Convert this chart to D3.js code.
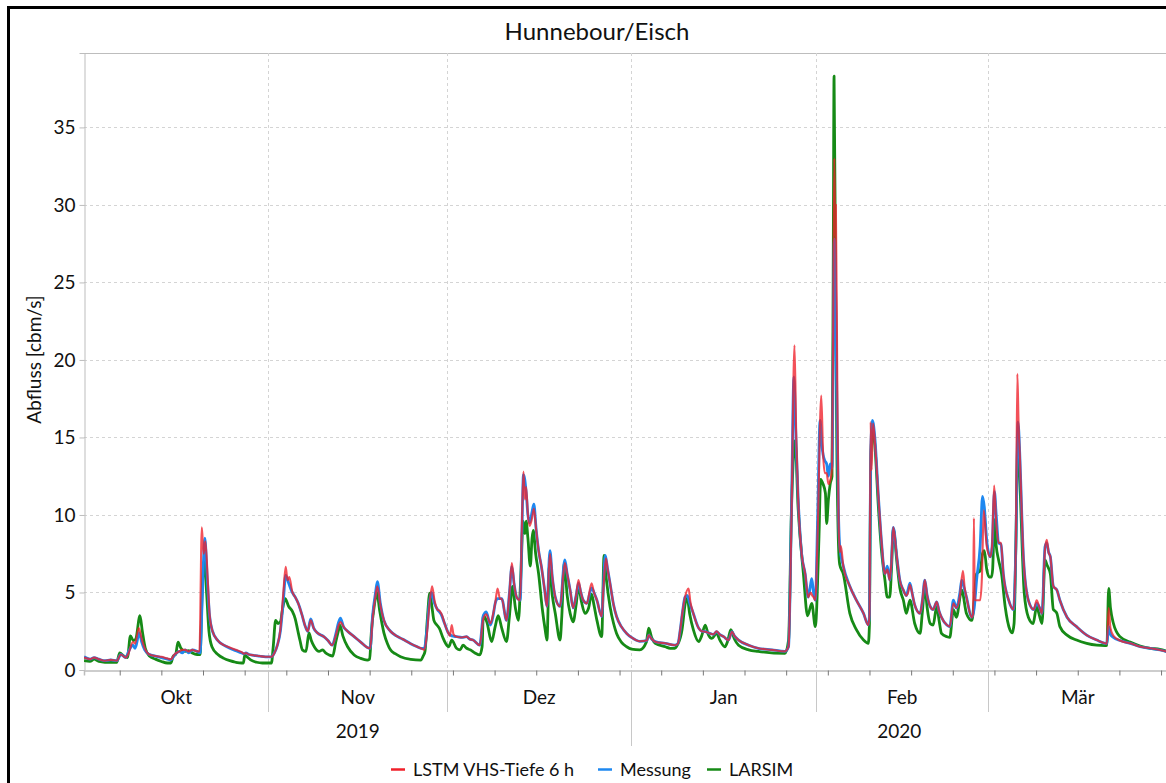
<!DOCTYPE html>
<html><head><meta charset="utf-8">
<script src="https://cdn.jsdelivr.net/npm/d3@7"></script>
<style>
html,body{margin:0;padding:0;background:#fff;}
svg{display:block;}
text{font-family:Lato,"Open Sans",sans-serif;fill:#111;}
</style></head>
<body>
<svg id="c" width="1166" height="783"></svg>
<script>
// ---- data: [days since 2019-10-01, discharge m3/s] ----
const startDate = Date.UTC(2019, 9, 1);
const title = "Hunnebour/Eisch";
const yLabel = "Abfluss [cbm/s]";
const yTicks = [0, 5, 10, 15, 20, 25, 30, 35];
const monthNames = ["Okt", "Nov", "Dez", "Jan", "Feb", "Mär"];
const yearNames = [["2019", "2019-10-01", "2020-01-01"], ["2020", "2020-01-01", "2020-03-31"]];
const seriesNames = ["LSTM VHS-Tiefe 6 h", "Messung", "LARSIM"];

const messung = [[0,0.85],[1,0.7],[1.7,0.8],[2.5,0.7],[3.5,0.6],[4.5,0.65],[5.5,0.6],[6.2,1.0],[7,0.8],[7.5,1.2],[8.2,1.6],[8.6,1.4],[9.3,2.4],[9.7,1.8],[10.2,1.3],[11,1.0],[12,0.9],[13,0.8],[14,0.7],[14.6,0.65],[15.2,0.95],[16,1.2],[16.5,1.1],[17,1.3],[17.6,1.1],[18.2,1.3],[19,1.2],[19.5,1.1],[19.9,5.0],[20.3,8.5],[20.7,6.0],[21.1,3.5],[21.6,2.5],[22.5,1.9],[23.5,1.6],[24.5,1.4],[25.5,1.25],[26.5,1.1],[26.9,1.05],[27.2,1.1],[27.7,1.0],[28.5,0.95],[29.5,0.9],[30.5,0.85],[31.5,0.85],
[32,1.1],[32.5,1.6],[33,2.5],[33.5,4.5],[33.9,6.1],[34.4,5.6],[35,5.0],[35.5,4.7],[36,4.3],[36.6,3.6],[37.2,2.8],[37.6,2.5],[38.1,3.3],[38.6,2.7],[39.2,2.4],[40.3,2.15],[41,1.9],[41.7,1.6],[42.3,2.3],[42.8,3.1],[43.1,3.35],[43.6,2.8],[44.3,2.5],[45.4,2.15],[46.5,1.8],[47.6,1.45],[48.1,1.4],[48.5,3.5],[49,5.0],[49.3,5.7],[49.8,4.3],[50.4,3.2],[51.5,2.5],[52.5,2.2],[53.5,2.0],[54.9,1.7],[56,1.5],[56.6,1.4],[57.2,1.4],[57.6,2.5],[58,4.2],[58.4,5.0],[58.9,4.3],[59.4,3.9],[60,3.6],[60.6,3.0],[61.2,2.4],[61.8,2.2],[62.6,2.15],[63.5,2.1],[64.3,2.15],[64.8,2.0],[65.4,1.93],[66.5,1.6],[67.1,3.5],[67.6,3.75],[68.3,2.9],[68.8,3.6],[69.1,4.3],[69.5,4.6],[69.9,4.6],[70.2,4.6],[71,3.2],[71.5,5.0],[71.9,6.66],[72.3,5.5],[72.7,4.7],[73.3,4.5],[73.6,9.0],[73.85,12.6],[74.3,11.5],[74.6,10.0],[74.9,9.5],[75.3,10.2],[75.6,10.7],[76,9.0],[76.4,7.7],[76.9,6.6],[77.4,5.2],[77.8,4.1],[78.3,7.7],[78.7,6.0],[79.2,4.7],[80,4.1],[80.8,7.1],[81.2,6.2],[81.7,5.15],[82.2,4.0],[82.7,4.8],[83.1,5.6],[83.5,5.0],[83.9,4.5],[84.5,4.3],[85.3,5.3],[85.7,5.0],[86.2,4.5],[87,3.45],[87.3,5.5],[87.6,7.4],[88,6.5],[88.4,5.6],[89,4.2],[89.5,3.45],[90.3,2.8],[91.2,2.36],[92,2.1],[93.4,1.85],
[94.6,1.9],[94.9,2.25],[95.4,2.0],[96,1.83],[97.7,1.72],[99.3,1.6],[99.8,1.7],[100.2,2.6],[100.6,3.8],[101,4.7],[101.4,4.8],[101.8,4.3],[102.4,3.65],[103.3,2.7],[103.8,2.5],[104.4,2.47],[105.2,2.36],[105.8,2.3],[106.3,2.47],[106.8,2.3],[107.5,2.15],[108.3,1.93],[108.9,2.47],[109.3,2.2],[110,1.93],[111.7,1.6],[113.3,1.4],[115.6,1.3],[117.8,1.2],[118.4,1.5],[118.9,10.5],[119.3,18.9],[119.6,15.5],[120,11.2],[120.6,7.5],[121.2,6.2],[121.7,4.7],[122.1,5.5],[122.3,5.9],[122.6,5.0],[122.9,4.5],[123.3,10.0],[123.7,16.1],[124,14.5],[124.2,13.9],[124.5,13.5],[124.8,13.3],[125.1,12.5],[125.4,13.3],[125.7,13.0],[125.9,20.0],[126.1,27.8],[126.3,25.0],[126.5,18.0],[126.8,10.0],[127,8.0],[127.6,6.7],[128.7,5.4],[129.8,4.5],[131,3.65],[131.8,2.9],[132,3.5],[132.2,14.0],[132.5,16.1],[132.9,15.0],[133.5,11.2],[134,8.4],[134.6,6.2],[135,6.7],[135.4,5.8],[135.7,7.0],[136,9.2],[136.6,7.3],[137.1,5.8],[137.7,5.15],[138.2,4.8],[138.5,5.2],[138.8,5.6],[139.2,4.9],[139.6,4.2],[140.5,3.65],[140.9,4.5],[141.3,5.8],[141.7,4.8],[142.2,4.1],[142.7,3.9],[143.3,4.4],[143.7,3.8],[144.1,3.4],[145,2.9],[145.5,2.8],[146.1,4.5],[146.6,4.0],[147.2,5.0],[147.5,5.8],[147.9,5.3],[148.3,4.7],[149.2,3.4],[149.6,4.0],[150,5.8],[150.6,8.0],[151,11.2],[151.3,10.5],[151.7,8.4],[152.3,7.3],[152.6,7.9],[153,11.5],[153.3,10.0],[153.7,8.2],[154.1,8.1],[154.5,6.2],[155.4,4.5],[156.2,3.9],[156.6,8.0],[156.95,16.0],[157.3,13.5],[157.6,10.0],[157.9,7.1],[158.7,4.5],[159.6,3.9],[160.1,4.3],[160.6,4.0],[161,3.65],[161.5,7.95],[161.8,8.2],[162.1,7.6],[162.4,7.3],[162.9,5.4],[163.5,5.15],[164,4.5],[165.2,3.4],[166.8,2.8],[168.5,2.25],[170.2,1.93],[171.6,1.72],[171.9,1.7],[172.2,2.8],[172.5,2.3],[173,2.1],[174.1,1.9],[175.8,1.72],[177.5,1.5],[179.2,1.4],[180.8,1.29],[182,1.18]];

const lstm = [[0,0.8],[1,0.7],[1.7,0.8],[2.5,0.7],[3.5,0.6],[4.5,0.65],[5.5,0.6],[6.2,1.0],[7,0.8],[7.5,1.1],[8.2,1.8],[8.6,1.7],[9.2,2.7],[9.7,2.0],[10.2,1.4],[11,1.0],[12,0.9],[13,0.85],[14,0.75],[14.6,0.7],[15.2,1.0],[16,1.2],[16.5,1.3],[17,1.3],[17.6,1.2],[18.2,1.3],[19,1.2],[19.4,1.2],[19.8,9.2],[20.1,7.5],[20.4,8.3],[20.8,5.8],[21.1,3.6],[21.6,2.5],[22.5,1.9],[23.5,1.6],[24.5,1.45],[25.5,1.3],[26.5,1.15],[26.9,1.05],[27.2,1.1],[27.7,1.0],[28.5,0.95],[29.5,0.9],[30.5,0.85],[31.5,0.85],
[32,1.1],[32.5,1.6],[33,2.6],[33.5,5.0],[33.9,6.65],[34.2,5.8],[34.5,6.0],[35,5.05],[35.5,4.7],[36,4.3],[36.6,3.6],[37.2,2.8],[37.6,2.5],[38.1,3.2],[38.6,2.7],[39.2,2.4],[40.3,2.15],[41,1.9],[41.7,1.6],[42.3,2.2],[42.8,2.9],[43.1,3.1],[43.6,2.8],[44.3,2.5],[45.4,2.15],[46.5,1.8],[47.6,1.45],[48.1,1.4],[48.5,3.3],[49,4.8],[49.3,5.4],[49.8,4.2],[50.4,3.2],[51.5,2.5],[52.5,2.2],[53.5,2.0],[54.9,1.7],[56,1.5],[56.6,1.4],[57.2,1.3],[57.6,2.2],[58,4.0],[58.5,5.4],[58.9,4.5],[59.4,3.9],[59.8,3.8],[60.2,3.5],[60.6,3.0],[61.2,2.4],[61.5,2.2],[61.8,2.9],[62.1,2.3],[62.6,2.15],[63.5,2.1],[64.3,2.15],[64.8,2.0],[65.4,1.93],[66.5,1.6],[67.1,3.3],[67.6,3.6],[68.3,3.0],[68.8,3.7],[69.1,4.3],[69.5,5.26],[69.9,4.6],[70.2,4.6],[71,3.2],[71.5,5.0],[71.9,6.9],[72.3,5.5],[72.7,4.7],[73.3,4.5],[73.6,9.5],[73.85,12.8],[74.1,11.0],[74.3,11.8],[74.6,10.0],[74.9,9.3],[75.3,9.8],[75.6,10.4],[76,9.0],[76.4,7.7],[76.9,6.6],[77.4,5.2],[77.8,4.1],[78.3,7.5],[78.7,6.0],[79.2,4.7],[80,4.1],[80.8,6.9],[81.2,6.2],[81.7,5.15],[82.2,4.0],[82.7,4.8],[83.1,5.8],[83.5,5.0],[83.9,4.5],[84.5,4.3],[85.3,5.6],[85.7,5.0],[86.2,4.5],[87,3.45],[87.3,5.3],[87.7,7.2],[88,6.5],[88.4,5.6],[89,4.2],[89.5,3.45],[90.3,2.8],[91.2,2.36],[92,2.1],[93.4,1.85],
[94.6,1.9],[94.9,2.25],[95.4,2.0],[96,1.83],[97.7,1.72],[99.3,1.6],[99.8,1.7],[100.2,2.6],[100.6,3.8],[101,4.7],[101.6,5.26],[101.9,4.4],[102.4,3.65],[103.3,2.7],[103.8,2.5],[104.4,2.47],[105.2,2.36],[105.8,2.3],[106.3,2.5],[106.8,2.3],[107.5,2.15],[108.3,1.93],[108.9,2.47],[109.3,2.2],[110,1.93],[111.7,1.6],[113.3,1.4],[115.6,1.3],[117.8,1.2],[118.4,1.5],[118.9,10.0],[119.4,20.95],[119.7,15.0],[120,11.2],[120.6,7.5],[121.2,6.2],[121.7,4.7],[122.1,5.0],[122.4,4.8],[122.6,4.7],[122.9,4.5],[123.3,9.0],[123.9,17.7],[124.2,14.0],[124.5,12.7],[124.8,12.7],[125.1,12.0],[125.4,12.2],[125.7,13.0],[125.9,22.0],[126.1,33.0],[126.25,28.0],[126.35,30.0],[126.6,18.0],[126.8,10.0],[127,7.6],[127.2,8.0],[127.6,6.7],[128.7,5.4],[129.8,4.5],[131,3.65],[131.8,2.9],[132,3.5],[132.2,16.0],[132.35,12.9],[132.6,15.9],[132.9,14.8],[133.5,11.2],[134,8.4],[134.6,6.2],[135,6.5],[135.4,5.8],[135.7,7.0],[136,9.2],[136.6,7.3],[137.1,5.8],[137.7,5.15],[138.2,4.8],[138.5,5.0],[138.8,5.5],[139.2,4.9],[139.6,4.2],[140.5,3.65],[140.9,4.5],[141.3,5.8],[141.7,4.8],[142.2,4.1],[142.7,3.9],[143.3,4.4],[143.7,3.8],[144.1,3.4],[145,2.9],[145.5,2.8],[146.1,4.3],[146.6,4.0],[147.2,4.8],[147.7,6.4],[148,5.3],[148.3,4.7],[149.2,3.4],[149.4,3.6],[149.55,9.8],[149.7,4.5],[150,4.5],[150.6,4.5],[150.9,6.0],[151.2,10.3],[151.7,8.0],[152.3,7.3],[152.6,8.0],[152.95,11.9],[153.3,9.5],[153.7,8.2],[154.1,8.2],[154.5,6.2],[155.4,4.5],[156.2,3.9],[156.6,8.0],[156.85,19.1],[157.05,16.0],[157.3,13.5],[157.6,10.0],[157.9,7.1],[158.7,4.5],[159.6,3.9],[160.1,4.5],[160.6,4.0],[161,3.65],[161.5,7.8],[161.8,8.4],[162.1,7.6],[162.4,7.3],[162.9,5.4],[163.5,5.15],[164,4.5],[165.2,3.4],[166.8,2.8],[168.5,2.25],[170.2,1.93],[171.6,1.72],[171.9,1.7],[172.2,4.0],[172.5,2.7],[173,2.2],[174.1,1.9],[175.8,1.72],[177.5,1.5],[179.2,1.4],[180.8,1.29],[182,1.18]];

const larsim = [[0,0.6],[1,0.55],[1.7,0.7],[2.5,0.55],[3.5,0.5],[4.5,0.5],[5.5,0.5],[6,1.1],[6.7,0.9],[7.3,0.8],[7.8,2.2],[8.3,1.9],[8.7,2.0],[9.4,3.5],[9.8,2.5],[10.3,1.4],[11,0.9],[12,0.7],[13,0.55],[14,0.45],[14.6,0.45],[15,0.9],[15.4,1.0],[15.8,1.8],[16.3,1.4],[17,1.2],[17.6,1.25],[18.2,1.1],[19,1.0],[19.5,1.0],[19.9,5.5],[20.2,7.1],[20.6,5.0],[21,2.5],[21.5,1.5],[22.5,1.0],[23.5,0.75],[24.5,0.6],[25.5,0.5],[26.5,0.45],[26.8,0.45],[27,0.95],[27.4,0.85],[28,0.65],[29,0.5],[30,0.45],[31,0.45],[31.5,0.45],[31.8,1.5],[32.2,3.2],[32.6,3.0],[33,3.1],[33.4,4.0],[33.8,4.6],[34.4,4.1],[35,3.8],[35.5,3.3],[35.9,2.6],[36.3,1.9],[36.7,1.3],[37.3,1.2],[37.8,2.4],[38.2,1.9],[38.7,1.5],[39.5,1.2],[40.1,1.3],[40.6,1.1],[41.2,0.97],[41.8,0.9],[42.3,1.8],[42.8,2.6],[43,2.9],[43.5,2.2],[44.3,1.5],[45.4,0.97],[46.5,0.75],[47.6,0.64],[48,0.7],[48.3,2.5],[48.8,4.2],[49.2,5.0],[49.7,3.8],[50.4,2.4],[51,1.7],[51.5,1.3],[52.3,1.05],[53.2,0.86],[54.9,0.69],[56.6,0.64],[57,0.9],[57.3,1.2],[57.7,3.3],[58.1,4.95],[58.5,4.0],[58.8,3.2],[59.3,2.9],[59.7,2.7],[60.3,2.1],[60.8,1.7],[61.3,1.5],[61.8,1.93],[62.6,1.4],[63.2,1.3],[63.7,1.6],[64.3,1.4],[64.9,1.3],[65.7,1.1],[66.5,0.97],[66.9,1.5],[67.1,3.5],[67.7,3.1],[68.5,1.83],[69.1,2.8],[69.6,3.5],[70.2,2.7],[71,1.83],[71.5,3.5],[72,5.4],[72.5,4.0],[73,3.2],[73.4,6.0],[73.8,9.6],[74.1,8.8],[74.3,9.6],[74.6,8.5],[75,6.7],[75.3,8.5],[75.5,9.0],[75.9,7.5],[76.4,6.2],[77,4.0],[77.5,2.6],[77.8,1.93],[78.2,6.66],[78.7,4.8],[79.2,3.65],[80,1.93],[80.3,3.5],[80.7,6.9],[81.2,4.8],[81.7,3.65],[82.2,3.1],[82.7,4.2],[83.1,5.4],[83.6,4.4],[84.2,3.65],[84.8,4.0],[85.3,4.9],[85.7,4.2],[86.2,3.2],[87,2.15],[87.4,7.4],[87.8,5.8],[88.4,4.1],[89,3.0],[89.5,2.36],[90.3,1.8],[91.2,1.5],[92,1.35],[93.4,1.3],[94.5,1.8],[94.9,2.7],[95.4,2.1],[96,1.72],[97.7,1.5],[98.5,1.4],[99.3,1.4],[99.7,1.6],[100.5,2.6],[101,4.2],[101.3,4.8],[101.8,3.6],[102.4,2.6],[103.3,1.83],[103.8,2.2],[104.4,2.9],[104.9,2.3],[105.5,2.04],[106.3,2.36],[106.9,1.9],[107.7,1.5],[108.2,1.9],[108.7,2.6],[109.3,2.0],[110,1.6],[111.7,1.3],[113.3,1.2],[117.8,1.07],[118.4,1.93],[118.9,10.5],[119.5,14.8],[120,10.5],[120.9,6.2],[121.6,3.5],[122.3,4.3],[122.9,2.8],[123.5,8.4],[123.8,12.3],[124.2,12.0],[124.6,11.4],[124.8,9.45],[125.1,11.0],[125.4,12.0],[125.7,12.5],[125.9,25.0],[126.05,38.3],[126.3,25.0],[126.5,15.0],[126.8,8.0],[127,6.8],[127.6,6.2],[128.7,3.65],[129.8,2.6],[131,1.93],[131.8,1.72],[132,3.0],[132.2,13.0],[132.5,15.5],[132.9,14.5],[133.5,10.5],[134,7.8],[134.6,5.8],[135,4.7],[135.4,4.7],[135.7,6.5],[136,9.1],[136.6,7.0],[137.1,5.3],[137.7,4.5],[138.2,3.65],[138.8,4.5],[139.6,3.0],[140.5,2.36],[140.9,3.8],[141.3,5.4],[141.7,4.0],[142.2,3.0],[142.7,2.9],[143.3,4.1],[143.7,3.2],[144.1,2.36],[145,2.15],[145.5,2.1],[146.1,3.9],[146.6,3.4],[147.5,5.15],[148.3,3.65],[149.2,3.2],[149.6,4.5],[150,6.2],[150.6,6.4],[151,7.5],[151.3,7.7],[151.7,6.5],[152.1,6.0],[152.5,6.0],[152.7,6.5],[153,9.7],[153.3,8.0],[153.7,7.1],[154.2,6.2],[154.8,4.1],[155.6,2.6],[156,2.4],[156.3,3.0],[156.6,8.0],[156.95,15.0],[157.3,12.0],[157.7,7.5],[158,5.0],[158.7,3.4],[159.5,3.0],[160.1,4.1],[160.5,3.6],[161,3.0],[161.5,7.1],[161.8,6.8],[162.4,6.2],[162.9,3.9],[163.2,3.8],[163.5,3.65],[164,2.8],[165.2,2.25],[166.8,1.93],[168.5,1.72],[170.2,1.6],[171.6,1.57],[171.9,1.6],[172.2,5.26],[172.5,4.0],[173,3.0],[174.1,2.15],[175.8,1.8],[177.5,1.55],[179.2,1.4],[180.8,1.33],[182,1.2]];

// ---- drawing ----
const svg = d3.select("#c");
const pL = 84, pR = 1167, pT = 53, pB = 670;
const toDate = d => new Date(startDate + d * 864e5);

const x = d3.scaleUtc().domain([new Date("2019-10-01T00:00:00Z"), new Date("2020-03-31T00:00:00Z")]).range([pL, pR]);
const y = d3.scaleLinear().domain([0, 39.8]).range([pB, pT]);

// outer frame
svg.append("rect").attr("x", 8.5).attr("y", 7.5).attr("width", 1180).attr("height", 800)
  .attr("fill", "none").attr("stroke", "#000").attr("stroke-width", 3);

// title
svg.append("text").attr("x", 597).attr("y", 40).attr("text-anchor", "middle")
  .attr("font-size", 24).text(title);

// plot border top
svg.append("line").attr("x1", pL).attr("x2", pR).attr("y1", pT + 0.5).attr("y2", pT + 0.5)
  .attr("stroke", "#bdbdbd").attr("stroke-width", 1);

// horizontal grid
svg.append("g").selectAll("line").data(yTicks.filter(v => v > 0)).join("line")
  .attr("x1", pL).attr("x2", pR).attr("y1", d => Math.round(y(d)) + 0.5).attr("y2", d => Math.round(y(d)) + 0.5)
  .attr("stroke", "#d4d4d4").attr("stroke-dasharray", "3,3");

// vertical month grid
const monthStarts = d3.utcMonth.range(new Date("2019-11-01T00:00:00Z"), new Date("2020-03-31T00:00:00Z"));
svg.append("g").selectAll("line").data(monthStarts).join("line")
  .attr("x1", d => Math.round(x(d)) + 0.5).attr("x2", d => Math.round(x(d)) + 0.5)
  .attr("y1", pT).attr("y2", pB)
  .attr("stroke", "#d4d4d4").attr("stroke-dasharray", "3,3");

// y axis
const yAxis = d3.axisLeft(y).tickValues(yTicks).tickSize(5).tickPadding(4);
const gy = svg.append("g").attr("transform", `translate(${pL + 0.5},0)`).call(yAxis);
gy.select(".domain").attr("stroke", "#bdbdbd");
gy.selectAll(".tick line").attr("stroke", "#bdbdbd");
gy.selectAll(".tick text").attr("font-family", "'Liberation Sans',Arial,sans-serif")
  .attr("font-size", 19).attr("fill", "#111");

svg.append("text").attr("transform", `translate(41,${(pT + pB) / 2 - 2}) rotate(-90)`)
  .attr("text-anchor", "middle").attr("font-size", 19).text(yLabel);

// x axis: weekly ticks (Mondays)
const xAxis = d3.axisBottom(x).ticks(d3.utcMonday.every(1)).tickSize(5).tickFormat("");
const gx = svg.append("g").attr("transform", `translate(0,${pB + 0.5})`).call(xAxis);
gx.select(".domain").attr("stroke", "#bdbdbd").attr("stroke-width", 1.5);
gx.selectAll(".tick line").attr("stroke", "#777");

// month separators below axis
svg.append("g").selectAll("line").data(monthStarts).join("line")
  .attr("x1", d => Math.round(x(d)) + 0.5).attr("x2", d => Math.round(x(d)) + 0.5)
  .attr("y1", pB).attr("y2", d => d.getUTCMonth() === 0 ? 746 : 712)
  .attr("stroke", "#c8c8c8").attr("stroke-width", 1);

// month labels
const allMonths = d3.utcMonth.range(new Date("2019-10-01T00:00:00Z"), new Date("2020-03-31T00:00:00Z"));
svg.append("g").selectAll("text").data(allMonths).join("text")
  .attr("x", d => {
    const e = d3.utcMonth.offset(d, 1);
    return (x(d) + Math.min(x(e), pR)) / 2;
  })
  .attr("y", 704).attr("text-anchor", "middle").attr("font-size", 19)
  .text((d, i) => monthNames[i]);

// year labels
svg.append("g").selectAll("text").data(yearNames).join("text")
  .attr("x", d => (x(new Date(d[1] + "T00:00:00Z")) + x(new Date(d[2] + "T00:00:00Z"))) / 2)
  .attr("y", 738).attr("text-anchor", "middle").attr("font-size", 19)
  .text(d => d[0]);

// lines
svg.append("clipPath").attr("id", "clip").append("rect")
  .attr("x", pL).attr("y", pT).attr("width", pR - pL).attr("height", pB - pT + 2);
const line = d3.line().curve(d3.curveMonotoneX).x(d => x(toDate(d[0]))).y(d => y(d[1]));
const gl = svg.append("g").attr("clip-path", "url(#clip)");
const colors = { lstm: "#f0202a", messung: "#1e88f0", larsim: "#168a16" };
gl.append("path").datum(larsim).attr("d", line).attr("fill", "none")
  .attr("stroke", colors.larsim).attr("stroke-width", 2.8).attr("stroke-linejoin", "round");
gl.append("path").datum(messung).attr("d", line).attr("fill", "none")
  .attr("stroke", colors.messung).attr("stroke-width", 2.8).attr("stroke-linejoin", "round");
gl.append("path").datum(lstm).attr("d", line).attr("fill", "none")
  .attr("stroke", colors.lstm).attr("stroke-width", 2.1).attr("stroke-opacity", 0.78).attr("stroke-linejoin", "round");

// legend
const legendItems = [
  { name: seriesNames[0], color: colors.lstm, x: 391 },
  { name: seriesNames[1], color: colors.messung, x: 598 },
  { name: seriesNames[2], color: colors.larsim, x: 707 }
];
const lg = svg.append("g");
legendItems.forEach(it => {
  lg.append("line").attr("x1", it.x).attr("x2", it.x + 14).attr("y1", 769.5).attr("y2", 769.5)
    .attr("stroke", it.color).attr("stroke-width", 2.5);
  lg.append("text").attr("x", it.x + 22).attr("y", 776).attr("font-size", 18).text(it.name);
});
</script>
</body></html>
